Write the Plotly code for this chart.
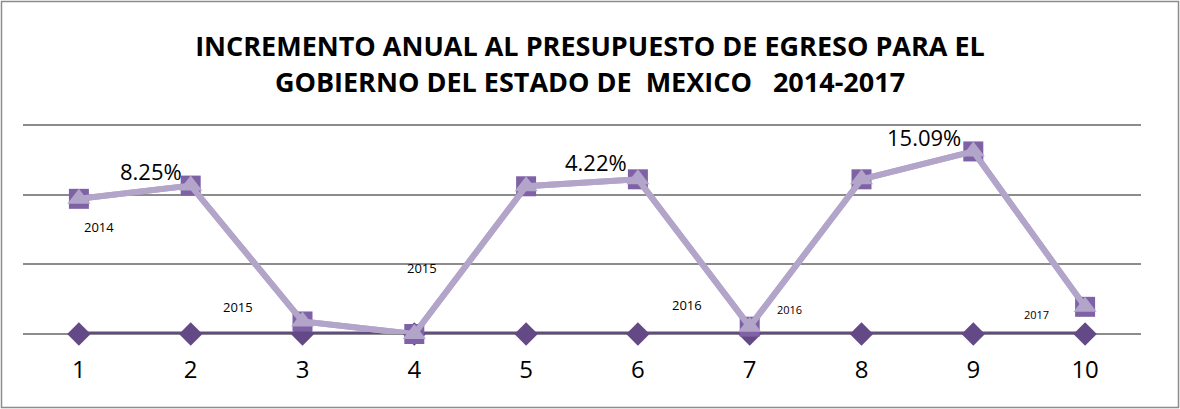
import plotly.graph_objects as go

# ---- data ----
categories = [1, 2, 3, 4, 5, 6, 7, 8, 9, 10]
budget_values = [194, 213, 18, 0, 212, 222, 10.5, 222, 262, 39]   # miles de millones (aprox.)
base_values = [0, 0, 0, 0, 0, 0, 0, 0, 0, 0]
tick_labels = ["1", "2", "3", "4", "5", "6", "7", "8", "9", "10"]

# data labels: (point index, text, xshift, yshift, font size)
label_points = [1, 5, 8, 0, 2, 3, 6, 6, 9]
label_texts = ["8.25%", "4.22%", "15.09%", "2014", "2015", "2015", "2016", "2016", "2017"]
label_xshift = [-40, -42, -49, 20, -65, 8, -63, 40, -49]
label_yshift = [15, 17, 14, -28, 14, 66, 22, 17, -8]
label_sizes = [22, 22, 22, 13, 13, 13, 13, 11, 11]

W, H = 1180, 409
ml, mr, mt, mb = 23, 39, 118, 75

fig = go.Figure()

fig.add_trace(go.Scatter(
    x=categories, y=base_values, mode="lines+markers",
    line=dict(color="#634A87", width=5),
    marker=dict(symbol="diamond", size=18, color="#634A87"),
    cliponaxis=False, showlegend=False, hoverinfo="skip"))

fig.add_trace(go.Scatter(
    x=categories, y=budget_values, mode="lines+markers",
    line=dict(color="#B3A5C9", width=6),
    marker=dict(symbol="square", size=20, color="#7F62A6"),
    cliponaxis=False, showlegend=False, hoverinfo="skip"))

fig.add_trace(go.Scatter(
    x=categories, y=budget_values, mode="lines+markers",
    line=dict(color="#B3A5C9", width=6),
    marker=dict(symbol="triangle-up", size=20, color="#B3A5C9"),
    cliponaxis=False, showlegend=False, hoverinfo="skip"))

for i, t, xs, ys, fs in zip(label_points, label_texts, label_xshift, label_yshift, label_sizes):
    fig.add_annotation(x=categories[i], y=budget_values[i], text=t, showarrow=False,
                       xshift=xs, yshift=ys,
                       font=dict(family="Open Sans, sans-serif", size=fs, color="#000000"))

pw = W - ml - mr
ph = H - mt - mb
fig.add_shape(type="rect", xref="paper", yref="paper",
              x0=(-ml + 1.5) / pw, x1=(W - ml - 1.5) / pw,
              y0=(-mb + 1.5) / ph, y1=(H - mb - 1.5) / ph,
              line=dict(color="#8C8C8C", width=1.5), layer="below")

fig.update_layout(
    width=W, height=H,
    margin=dict(l=ml, r=mr, t=mt, b=mb),
    paper_bgcolor="white", plot_bgcolor="white",
    title=dict(
        text="<b>INCREMENTO ANUAL AL PRESUPUESTO DE EGRESO PARA EL<br>GOBIERNO DEL ESTADO DE  MEXICO   2014-2017</b>",
        x=0.5, xanchor="center", y=0.862, yanchor="middle",
        font=dict(family="Open Sans, sans-serif", size=27, color="#000000")),
    xaxis=dict(
        tickmode="array", tickvals=categories, ticktext=tick_labels,
        range=[0.5, 10.5], showgrid=False, zeroline=False, showline=False,
        ticks="", ticklabelstandoff=19,
        tickfont=dict(family="Open Sans, sans-serif", size=24, color="#000000")),
    yaxis=dict(
        range=[-0.0001, 310], tickvals=[0, 100, 200, 300], showticklabels=False,
        showgrid=True, gridcolor="#8C8C8C", gridwidth=2,
        zeroline=True, zerolinecolor="#8C8C8C", zerolinewidth=2, showline=False),
)

fig.write_html("out.html", config={"displayModeBar": False},
               post_script="document.body.style.margin='0';")
